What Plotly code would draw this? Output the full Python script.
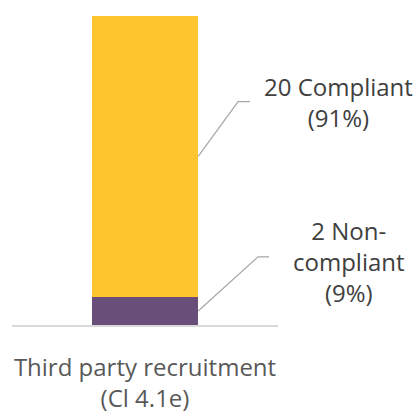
import plotly.graph_objects as go

# Data
category = "Third party recruitment<br>(Cl 4.1e)"
series_names = ["Non-compliant", "Compliant"]
counts = [2, 20]
percents = [9, 91]
colors = ["#6A4E7A", "#FEC52E"]
label_texts = ["2 Non-<br>compliant<br>(9%)", "20 Compliant<br>(91%)"]

BAR_WIDTH = 0.40
total = sum(counts)

fig = go.Figure()
for name, val, col in zip(series_names, counts, colors):
    fig.add_trace(go.Bar(
        x=[0], y=[val], name=name, marker=dict(color=col, line=dict(width=0)),
        width=BAR_WIDTH, hoverinfo="skip",
    ))

# Leader lines from each segment's midpoint to its label, plus the labels
label_pos = [  # (elbow x, elbow end x, elbow y, label paper x, label paper y)
    (0.425, 0.466, 4.85, 1.267, 0.207),
    (0.350, 0.395, 15.9, 1.226, 0.722),
]
shapes = []
annotations = []
base = 0
for val, txt, (ex, ee, ey, lx, ly) in zip(counts, label_texts, label_pos):
    mid = base + val / 2
    base += val
    x0 = BAR_WIDTH / 2
    shapes.append(dict(
        type="path", xref="x", yref="y",
        path=f"M {x0},{mid} L {ex},{ey} L {ee},{ey}",
        line=dict(color="#A6A6A6", width=1.2),
    ))
    annotations.append(dict(
        x=lx, y=ly, xref="paper", yref="paper", text=txt, showarrow=False,
        xanchor="center", yanchor="middle", align="center",
        font=dict(family="Open Sans", size=24, color="#404040"),
    ))

fig.update_layout(
    barmode="stack",
    width=419, height=412,
    margin=dict(l=12, r=141, t=16, b=87),
    paper_bgcolor="white", plot_bgcolor="white",
    showlegend=False,
    shapes=shapes,
    annotations=annotations,
    xaxis=dict(
        range=[-0.5, 0.5], tickvals=[0], ticktext=[category],
        showline=True, linecolor="#D9D9D9", linewidth=1.5,
        showgrid=False, zeroline=False, ticks="",
        tickfont=dict(family="Open Sans", size=24, color="#595959"),
        ticklabelstandoff=20, automargin=False,
    ),
    yaxis=dict(range=[0, total], visible=False, showgrid=False, zeroline=False),
)

fig.write_html("out.html")
